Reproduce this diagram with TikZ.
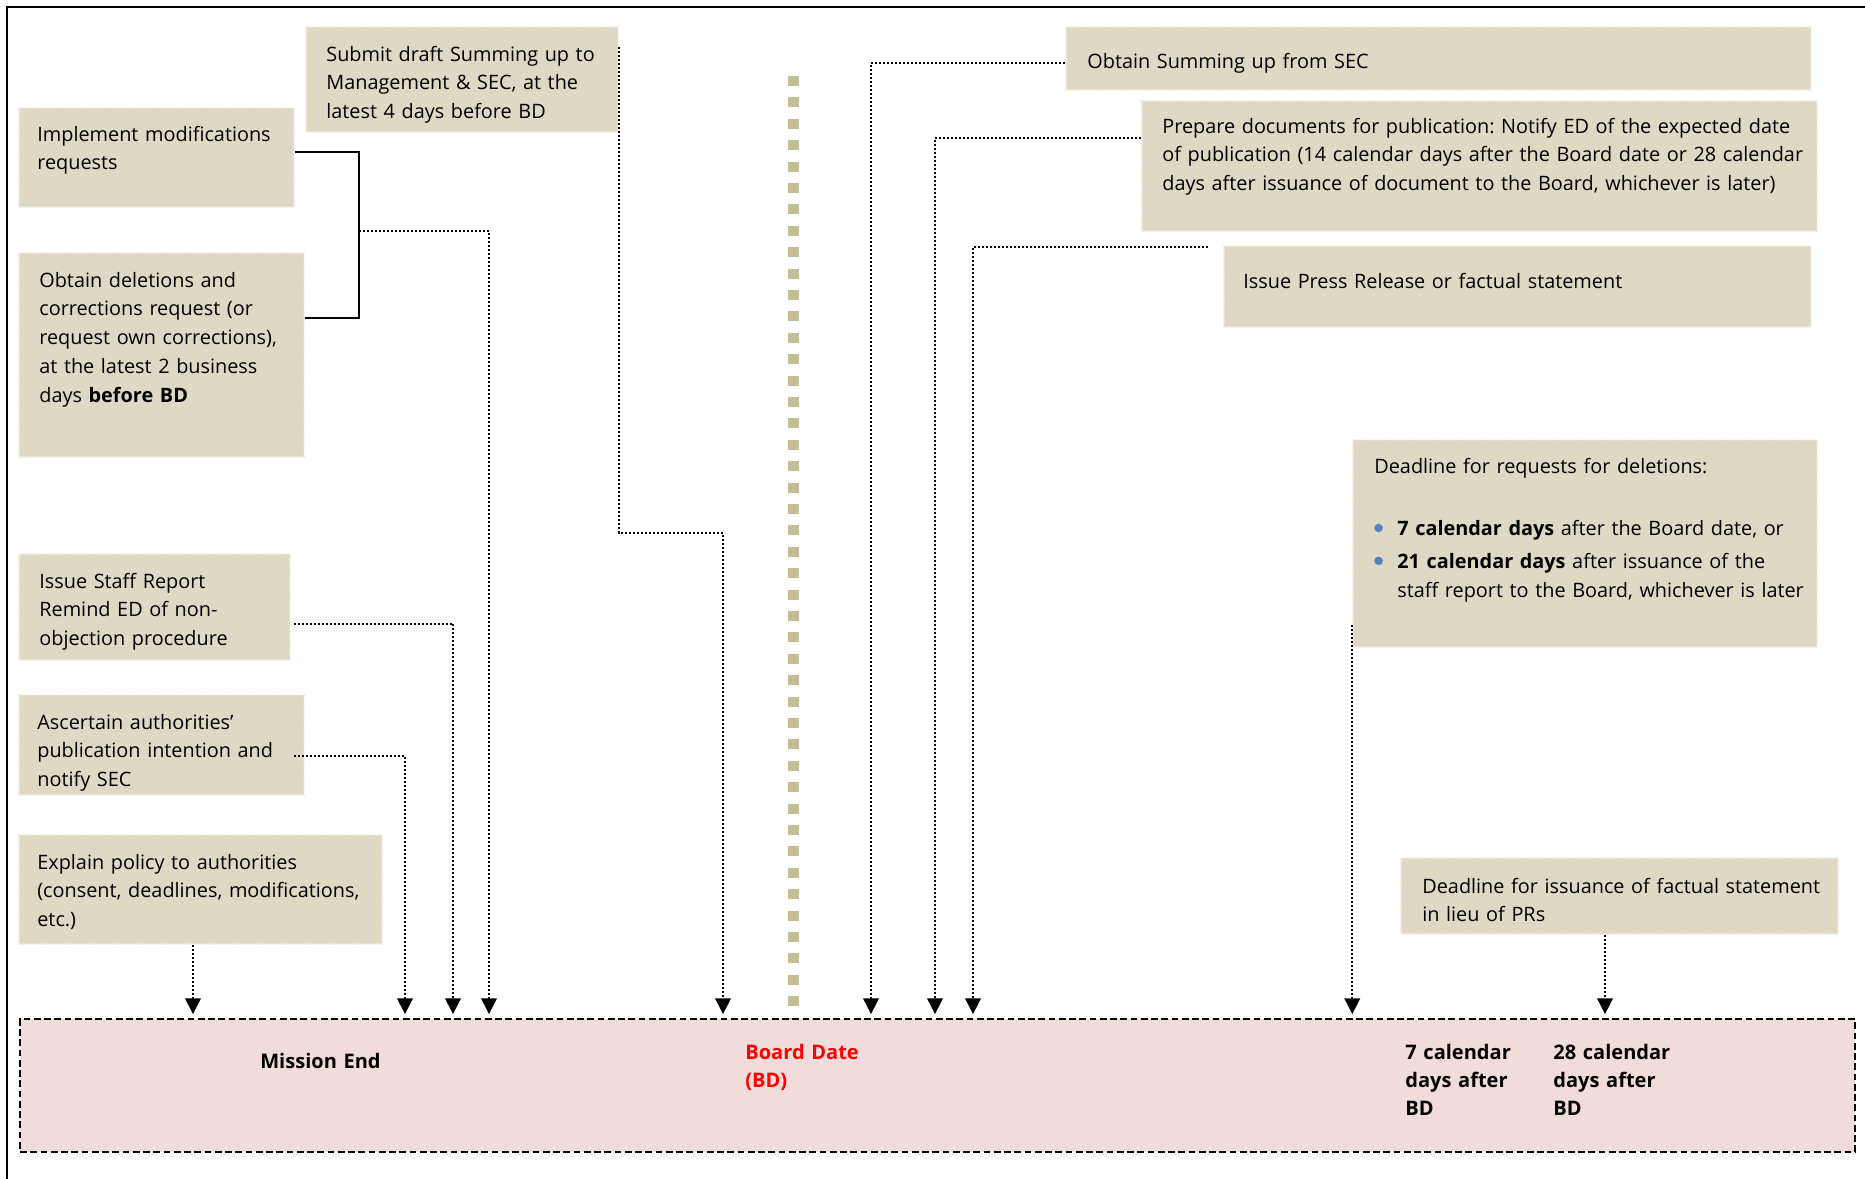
\documentclass[tikz,border=0pt]{standalone}
\usepackage{fontspec}
\setmainfont{Open Sans}
\usetikzlibrary{arrows.meta,fit}

\definecolor{tanbg}{HTML}{DDD9C3}
\definecolor{tanbd}{HTML}{EEECE1}
\definecolor{tanline}{HTML}{C4BD97}
\definecolor{pinkbg}{HTML}{F2DCDB}
\definecolor{bdred}{HTML}{FF0000}
\definecolor{bulletblue}{HTML}{4F81BD}

\newcommand{\blt}{\makebox[4.6mm][l]{\tikz[baseline=0pt,x=1mm,y=1mm]\fill[bulletblue] (0.9,1.55) circle[radius=0.85mm];}}

\begin{document}
\frenchspacing
\begin{tikzpicture}[x=0.2mm,y=-0.2mm,
    task box/.style={rectangle,fill=tanbg,draw=tanbd,line width=0.3mm,
                     dash pattern=on 0.3mm off 0.3mm,inner sep=0pt},
    task text/.style={inner sep=0pt,anchor=base west,align=left,text width=140mm,
                      font=\fontsize{11.3}{16.4}\selectfont},
    time box/.style={rectangle,fill=pinkbg,draw=black,line width=0.5mm,
                     dash pattern=on 1.35mm off 0.7mm,inner sep=0pt},
    time text/.style={task text,font=\fontsize{11.4}{16.2}\selectfont\bfseries},
    link/.style={draw=black,line width=0.4mm,dash pattern=on 0.4mm off 0.4mm,
                 -{Triangle[length=3.2mm,width=3.1mm]},shorten >=0.7mm},
    bracket/.style={draw=black,line width=0.45mm}]

  \useasboundingbox (0,0) rectangle (1865,1179);

  % frame and board date marker
  \draw[line width=0.55mm] (1865,7) -- (7,7) -- (7,1179);
  \draw[tanline,line width=2.1mm,dash pattern=on 2mm off 2.28mm] (793.5,76) -- (793.5,1030);

  % left hand tasks
  \node[task box,fit={(19,108) (294,207)}] (impl) {};
  \node[task text] (impl-t) at (37,141) {Implement modifications\\requests};

  \node[task box,fit={(19,253) (304,457)}] (obt) {};
  \node[task text] (obt-t) at (39,287) {Obtain deletions and\\corrections request (or\\request own corrections),\\at the latest 2 business\\days \textbf{before BD}};

  \node[task box,fit={(306,27) (618,132)}] (sub) {};
  \node[task text] (sub-t) at (326,61) {Submit draft Summing up to\\Management \& SEC, at the\\latest 4 days before BD};

  \node[task box,fit={(19,554) (290,660)}] (staff) {};
  \node[task text] (staff-t) at (39,588) {Issue Staff Report\\Remind ED of non-\\objection procedure};

  \node[task box,fit={(19,695) (304,795)}] (asc) {};
  \node[task text] (asc-t) at (37,729) {Ascertain authorities’\\publication intention and\\notify SEC};

  \node[task box,fit={(19,835) (382,944)}] (expl) {};
  \node[task text] (expl-t) at (37,869) {Explain policy to authorities\\(consent, deadlines, modifications,\\etc.)};

  % right hand tasks
  \node[task box,fit={(1066,27) (1811,90)}] (summ) {};
  \node[task text] (summ-t) at (1087,68) {Obtain Summing up from SEC};

  \node[task box,fit={(1142,101) (1817,231)}] (prep) {};
  \node[task text] (prep-t) at (1162,133) {Prepare documents for publication: Notify ED of the expected date\\of publication (14 calendar days after the Board date or 28 calendar\\days after issuance of document to the Board, whichever is later)};

  \node[task box,fit={(1224,246) (1811,327)}] (press) {};
  \node[task text] (press-t) at (1243,288) {Issue Press Release or factual statement};

  \node[task box,fit={(1353,440) (1817,647)}] (dl) {};
  \node[task text] (dl-t) at (1374,473) {Deadline for requests for deletions:\\[19.3pt]
    \blt\textbf{7 calendar days} after the Board date, or\\[2.3pt]
    \blt\textbf{21 calendar days} after issuance of the\\
    \hspace*{4.6mm}staff report to the Board, whichever is later};

  \node[task box,fit={(1401,858) (1838,934)}] (fs) {};
  \node[task text] (fs-t) at (1422,893) {Deadline for issuance of factual statement\\in lieu of PRs};

  % time line
  \node[time box,fit={(20,1019) (1855,1152)}] (tl) {};
  \node[time text] (me) at (260,1068) {Mission End};
  \node[time text,text=bdred] (bd) at (745,1059) {Board Date\\(BD)};
  \node[time text] (d7) at (1405,1059) {7 calendar\\days after\\BD};
  \node[time text] (d28) at (1553,1059) {28 calendar\\days after\\BD};

  % connectors
  \coordinate (brk) at (359,231);
  \draw[bracket] ([yshift=1.1mm]impl.east) -| (brk) |- ([yshift=7.4mm]obt.east);
  \draw[link] (brk) -| (tl.north -| 489,0);
  \draw[link] ([yshift=-4.2mm]sub.north east) -- (sub.east |- 0,533) -| (tl.north -| 723,0);
  \draw[link] ([xshift=0.6mm,yshift=-3.3mm]staff.east) -| (tl.north -| 453,0);
  \draw[link] ([xshift=-2.2mm,yshift=-2.2mm]asc.east) -| (tl.north -| 405,0);
  \draw[link] (expl.south -| 193,0) -- (tl.north -| 193,0);
  \draw[link] ([yshift=-0.9mm]summ.west) -| (tl.north -| 871,0);
  \draw[link] ([yshift=5.6mm]prep.west) -| (tl.north -| 935,0);
  \draw[link] ([xshift=-3mm,yshift=-0.4mm]press.north west) -| (tl.north -| 973,0);
  \draw[link] ([yshift=4.6mm]dl.south west) -- (tl.north -| dl.west);
  \draw[link] (fs.south -| 1605,0) -- (tl.north -| 1605,0);

\end{tikzpicture}
\end{document}
